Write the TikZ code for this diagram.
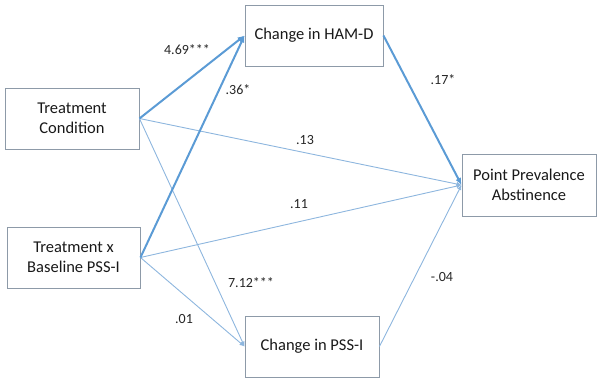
\documentclass[tikz,border=0pt]{standalone}
\usepackage{fontspec}
\setmainfont{Carlito}
\usetikzlibrary{arrows.meta}
\definecolor{thickc}{HTML}{5B9BD5}
\definecolor{thinc}{HTML}{8DB6DE}
\definecolor{boxc}{HTML}{8D9AA8}
\begin{document}
\begin{tikzpicture}[x=1pt,y=-1pt,
  box/.style={draw=boxc,line width=0.9pt,fill=white,minimum height=61pt,align=center,font=\fontsize{16.5}{20}\selectfont,inner sep=0pt,text=black!90},
  strong/.style={draw=thickc,line width=2pt,-{Latex[length=7pt,width=6pt]}},
  weak/.style={draw=thinc,line width=0.9pt,-{Latex[length=5pt,width=4.5pt]}},
  lab/.style={font=\fontsize{14}{16}\selectfont,text=black!85,inner sep=0pt}]
\useasboundingbox (0,0) rectangle (602,383);
\node[box,minimum width=134pt] (tc) at (72,118.5) {Treatment\\Condition};
\node[box,minimum width=133pt] (tx) at (73.5,257.5) {Treatment x\\Baseline PSS-I};
\node[box,minimum width=138pt] (hd) at (314,35.5) {Change in HAM-D};
\node[box,minimum width=134pt] (ps) at (312,346.5) {Change in PSS-I};
\node[box,minimum width=134pt,minimum height=62pt] (pp) at (529,185) {Point Prevalence\\Abstinence};
\draw[weak] (tc.east) -- (pp.west);
\draw[weak] (tx.east) -- (pp.west);
\draw[weak] (tc.east) -- (ps.west);
\draw[weak] (tx.east) -- (ps.west);
\draw[weak] (ps.east) -- (pp.west);
\draw[strong] (tc.east) -- (hd.west);
\draw[strong] (tx.east) -- (hd.west);
\draw[strong] (hd.east) -- (pp.west);
\node[lab] (l1) at (187,50) {4.69***};
\node[lab] (l2) at (238,90) {.36*};
\node[lab] (l3) at (305,140) {.13};
\node[lab] (l4) at (299,204) {.11};
\node[lab] (l5) at (251,283) {7.12***};
\node[lab] (l6) at (184,319) {.01};
\node[lab] (l7) at (443,80) {.17*};
\node[lab] (l8) at (442,277) {-.04};
\end{tikzpicture}
\end{document}
